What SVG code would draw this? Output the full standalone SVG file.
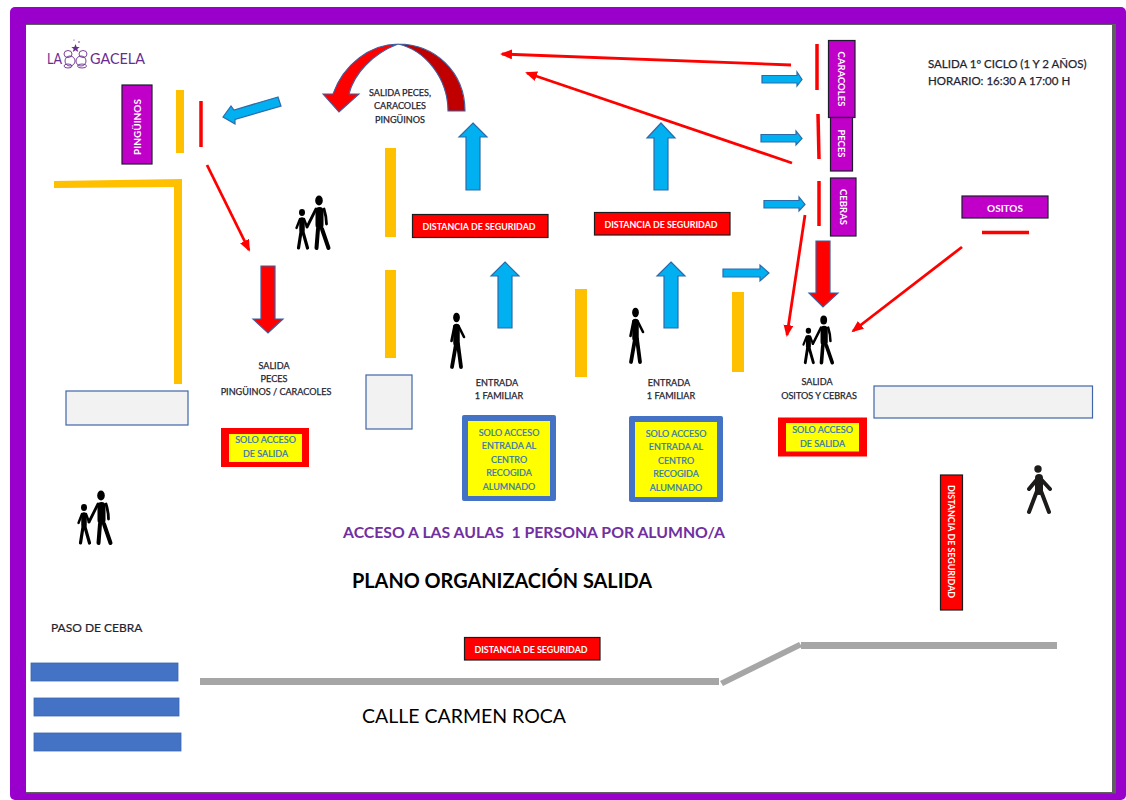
<svg xmlns="http://www.w3.org/2000/svg" xmlns:xlink="http://www.w3.org/1999/xlink" width="1126" height="800" viewBox="0 0 1126 800">
<style>
text{font-family:Lato,"Open Sans","Liberation Sans",sans-serif}
.t{font-size:9.1px;fill:#1f2430;stroke:#1f2430;stroke-width:.25;text-anchor:middle}
.w{fill:#fff;font-weight:700;text-anchor:middle}
.so{font-size:9px;fill:#2e75b6;stroke:#2e75b6;stroke-width:.2;text-anchor:middle}
.m{fill:#c000c8;stroke:#1c1c2c;stroke-width:1.2}
.d{fill:#f00;stroke:#1c1c1c;stroke-width:1.2}
.o{fill:#ffc000}
.r{stroke:#f00;stroke-width:3.500;fill:none}
.ra{stroke:#f00;stroke-width:2.800;fill:none}
.ba{fill:#00b0f0;stroke:#2f6aa8;stroke-width:1.2}
.rb{fill:#f00;stroke:#3f5f9f;stroke-width:1.2}
.g{fill:#f2f2f2;stroke:#3f66a8;stroke-width:1.2}
.rd{fill:#f00}
.bl{fill:#4472c4;stroke:#3a66b0;stroke-width:.8}
.ro{fill:#a6a6a6}
.ic{fill:none;stroke:#000;stroke-linecap:round;stroke-linejoin:round}
</style>
<defs>
<marker id="h" markerWidth="13" markerHeight="12" refX="10" refY="5" orient="auto" markerUnits="userSpaceOnUse"><path d="M0,0L12,5L0,10z" fill="#f00"/></marker>
<g id="pair">
<ellipse cx="23" cy="5.500" rx="3.800" ry="5" fill="#000"/>
<path class="ic" stroke-width="8" d="M23.500,16L23.500,30"/>
<path class="ic" stroke-width="2.800" d="M20,14L11,32M28,14Q30.500,22 30.500,29"/>
<path class="ic" stroke-width="4" d="M22,34L20.500,53M26,34L32.500,53"/>
<ellipse cx="6" cy="17.500" rx="3" ry="3.400" fill="#000"/>
<path class="ic" stroke-width="5.500" d="M6,25L6,35"/>
<path class="ic" stroke-width="2.400" d="M8,24L11,32M4,24L0.500,33"/>
<path class="ic" stroke-width="3.200" d="M5,37L2.500,53M7,37L11.500,53"/>
</g>
<g id="walker">
<ellipse cx="7.500" cy="4.500" rx="3.400" ry="4.800" fill="#000"/>
<path class="ic" stroke-width="6.500" d="M7.500,14L7.500,30"/>
<path class="ic" stroke-width="2.600" d="M5.500,13L2.500,28M9.500,13L15,24"/>
<path class="ic" stroke-width="3.800" d="M7,31L3,54M9,31L12,54"/>
</g>
</defs>

<g id="frame">
<rect x="10" y="7" width="1116" height="793" rx="5" fill="#9900cc"/>
<rect x="26" y="24" width="1090" height="769.500" fill="#5f5f5f"/>
<rect x="26" y="25" width="1086" height="767" fill="#fff"/>
</g>

<g id="logo">
<text x="47" y="64" font-size="15" fill="#6a2c91" textLength="15" lengthAdjust="spacingAndGlyphs">LA</text>
<text x="90" y="64" font-size="15" fill="#6a2c91" textLength="55" lengthAdjust="spacingAndGlyphs">GACELA</text>
<g fill="none" stroke="#6a2c91" stroke-width=".9">
<ellipse cx="68" cy="54" rx="4" ry="3.500"/><ellipse cx="70" cy="61" rx="5" ry="5"/><ellipse cx="83" cy="54" rx="4" ry="3.500"/><ellipse cx="81" cy="61" rx="5" ry="5"/><ellipse cx="68" cy="66" rx="4" ry="2"/><ellipse cx="82" cy="66" rx="4.500" ry="2"/>
</g>
<path d="M75.500,44l1.200,3h3l-2.400,2 1,3-2.800-1.800-2.800,1.800 1-3-2.400-2h3z" fill="#6a2c91"/>
<circle cx="79" cy="42" r=".8" fill="#6a2c91"/><circle cx="74" cy="40" r=".6" fill="#6a2c91"/>
</g>

<g id="walls">
<rect class="o" x="176" y="90" width="8" height="63"/>
<path class="o" d="M54,181L182,179V384H174V187L54,188Z"/>
<rect class="o" x="385" y="148" width="11" height="89"/>
<rect class="o" x="385" y="270" width="11" height="88"/>
<rect class="o" x="575" y="289" width="12" height="88"/>
<rect class="o" x="732" y="292" width="12" height="80"/>
<rect class="g" x="66" y="391" width="122" height="34"/>
<rect class="g" x="366" y="375" width="46" height="54"/>
<rect class="g" x="874" y="386" width="218.500" height="32"/>
<path class="r" d="M201,101V147"/>
<path class="r" d="M817,44V90"/>
<path class="r" d="M818,114L819,159"/>
<path class="r" d="M819,181V226"/>
<path class="r" d="M982,232.500H1029"/>
</g>

<g id="node-pinguinos"><rect class="m" x="122" y="85" width="30" height="79"/><text class="w" font-size="10" transform="translate(137,127) rotate(-90)" dy=".35em">PINGÜINOS</text></g>
<g id="node-caracoles"><rect class="m" x="828.500" y="40.500" width="26.500" height="77"/><text class="w" font-size="9.500" transform="translate(841.500,79) rotate(90)" dy=".35em">CARACOLES</text></g>
<g id="node-peces"><rect class="m" x="830.500" y="117.500" width="22" height="53.500"/><text class="w" font-size="9.500" transform="translate(841,143.500) rotate(90)" dy=".35em">PECES</text></g>
<g id="node-cebras"><rect class="m" x="830.500" y="178" width="25.500" height="58"/><text class="w" font-size="9.500" transform="translate(843,207) rotate(90)" dy=".35em">CEBRAS</text></g>
<g id="node-ositos"><rect class="m" x="962" y="196" width="86" height="22"/><text class="w" x="1005" y="212" font-size="10">OSITOS</text></g>

<g id="dist-1"><rect class="d" x="412.500" y="214.500" width="135.500" height="23"/><text class="w" x="479" y="230" font-size="8.900">DISTANCIA DE SEGURIDAD</text></g>
<g id="dist-2"><rect class="d" x="594.500" y="212.500" width="135.500" height="22.500"/><text class="w" x="661" y="227.500" font-size="8.900">DISTANCIA DE SEGURIDAD</text></g>
<g id="dist-3"><rect class="d" x="464.500" y="637.500" width="135.500" height="22.500"/><text class="w" x="531" y="652.500" font-size="8.900">DISTANCIA DE SEGURIDAD</text></g>
<g id="dist-4"><rect class="d" x="940.500" y="475" width="22" height="135"/><text class="w" font-size="8.900" transform="translate(951.500,541.500) rotate(90)" dy=".35em">DISTANCIA DE SEGURIDAD</text></g>

<g id="connectors">
<path fill="#c00000" d="M398,44C435,44 465,72 465,111H448C448,78 425,50 398,44Z"/>
<path fill="#f00" d="M398,44C370,44 343,65 333,94H323L339,112L359,94H349C354,74 372,54 398,44Z"/>
<path fill="none" stroke="#3f5f9f" stroke-width="1.100" d="M448,111H465C465,72 435,44 398,44C370,44 343,65 333,94H323L339,112L359,94H349C354,74 372,54 398,44C425,50 448,78 448,111Z"/>
<path class="ba" d="M278,97L234,110L231,106L223,117L235,124L235,119.500L281,106Z"/>
<path class="ba" d="M473,123L487,137H480V190H466V137H459Z"/>
<path class="ba" d="M505,262L519,276H512V328H498V276H491Z"/>
<path class="ba" d="M661,123L675,138H668V190H654V138H647Z"/>
<path class="ba" d="M671,262L685,276H678V328H664V276H657Z"/>
<path class="ba" d="M723,269H760V265L769,273L760,281V277H723Z"/>
<path class="ba" d="M762,75.500H797V72L802,79.500L797,86V83H762Z"/>
<path class="ba" d="M761,134.500H796V131L802,138.500L796,145V142H761Z"/>
<path class="ba" d="M764,200.500H799V197L805,204.500L799,211V208H764Z"/>
<path class="rb" d="M261,266H275V319H283L268,333L253,319H261Z"/>
<path class="rb" d="M816,241H830V293H838L823,307L809,293H816Z"/>
<path class="ra" marker-end="url(#h)" d="M791,65L502,54"/>
<path class="ra" marker-end="url(#h)" d="M792,163L527,73"/>
<path class="ra" marker-end="url(#h)" d="M805,215L787,335"/>
<path class="ra" marker-end="url(#h)" d="M962,247L853,331"/>
<path class="ra" marker-end="url(#h)" d="M207,165L249,250"/>
</g>

<g id="labels">
<text class="t" x="400" y="96">SALIDA PECES,</text>
<text class="t" x="400" y="109">CARACOLES</text>
<text class="t" x="400" y="123">PINGÜINOS</text>
<text x="928" y="68" font-size="11.500" fill="#1f2430" stroke="#1f2430" stroke-width=".25">SALIDA 1º CICLO (1 Y 2 AÑOS)</text>
<text x="928" y="85" font-size="11.500" fill="#1f2430" stroke="#1f2430" stroke-width=".25">HORARIO: 16:30 A 17:00 H</text>
<text class="t" x="274" y="369">SALIDA</text>
<text class="t" x="274" y="382">PECES</text>
<text class="t" x="276" y="395">PINGÜINOS / CARACOLES</text>
<text class="t" x="497" y="386">ENTRADA</text>
<text class="t" x="499" y="399">1 FAMILIAR</text>
<text class="t" x="669" y="386">ENTRADA</text>
<text class="t" x="671" y="399">1 FAMILIAR</text>
<text class="t" x="817" y="385">SALIDA</text>
<text class="t" x="819" y="399">OSITOS Y CEBRAS</text>
<text x="343" y="538" font-size="16" fill="#7030a0" font-weight="700" textLength="382" lengthAdjust="spacingAndGlyphs" xml:space="preserve">ACCESO A LAS AULAS  1 PERSONA POR ALUMNO/A</text>
<text x="352" y="588" font-size="20" fill="#000" font-weight="700" textLength="300" lengthAdjust="spacingAndGlyphs">PLANO ORGANIZACIÓN SALIDA</text>
<text x="51" y="632" font-size="12" fill="#1f2430" stroke="#1f2430" stroke-width=".2">PASO DE CEBRA</text>
<text x="362" y="723" font-size="20" fill="#000" textLength="204" lengthAdjust="spacingAndGlyphs">CALLE CARMEN ROCA</text>
</g>

<g id="box-salida-1"><rect x="221" y="428" width="88" height="39" class="rd"/><rect x="229" y="434" width="73" height="28" fill="#ff0"/><text class="so" x="265.500" y="443">SOLO ACCESO</text><text class="so" x="265.500" y="457">DE SALIDA</text></g>
<g id="box-salida-2"><rect x="778" y="417.500" width="89" height="39" class="rd"/><rect x="786" y="423" width="73" height="28.500" fill="#ff0"/><text class="so" x="822.500" y="433">SOLO ACCESO</text><text class="so" x="822.500" y="447">DE SALIDA</text></g>
<g id="box-entrada-1"><rect x="462" y="415" width="94" height="86" rx="2" fill="#4472c4"/><rect x="468" y="421" width="82" height="75" fill="#ff0"/>
<text class="so" x="509" y="435.500">SOLO ACCESO</text><text class="so" x="509" y="449">ENTRADA AL</text><text class="so" x="509" y="463">CENTRO</text><text class="so" x="509" y="476">RECOGIDA</text><text class="so" x="509" y="490">ALUMNADO</text></g>
<g id="box-entrada-2"><rect x="629" y="416" width="94" height="86" rx="2" fill="#4472c4"/><rect x="635" y="422" width="82" height="75" fill="#ff0"/>
<text class="so" x="676" y="436.500">SOLO ACCESO</text><text class="so" x="676" y="450">ENTRADA AL</text><text class="so" x="676" y="464">CENTRO</text><text class="so" x="676" y="477">RECOGIDA</text><text class="so" x="676" y="491">ALUMNADO</text></g>

<g id="figures">
<use href="#pair" transform="translate(296,195)"/>
<use href="#pair" transform="translate(803,315) scale(.9)"/>
<use href="#pair" transform="translate(78,490)"/>
<use href="#walker" transform="translate(449,313)"/>
<use href="#walker" transform="translate(628,308)"/>
<g fill="none" stroke="#1d1b1a" stroke-width="4" stroke-linecap="round" stroke-linejoin="round">
<circle cx="1038" cy="469" r="3.700" fill="#1d1b1a" stroke="none"/>
<path d="M1039,477L1029,489M1039,477L1050,489M1037,491L1029,512M1041,491L1049,512"/>
<path d="M1039,478V491" stroke-width="8"/>
</g>
</g>

<g id="crossing">
<rect class="bl" x="31" y="663" width="147" height="18"/>
<rect class="bl" x="34" y="698" width="145" height="18"/>
<rect class="bl" x="34" y="733" width="147" height="18"/>
</g>
<g id="road">
<rect class="ro" x="200" y="678" width="519" height="7"/>
<path class="ro" d="M720,681L799,642L802,647L723,686Z"/>
<rect class="ro" x="801" y="642" width="256" height="7"/>
</g>
</svg>
